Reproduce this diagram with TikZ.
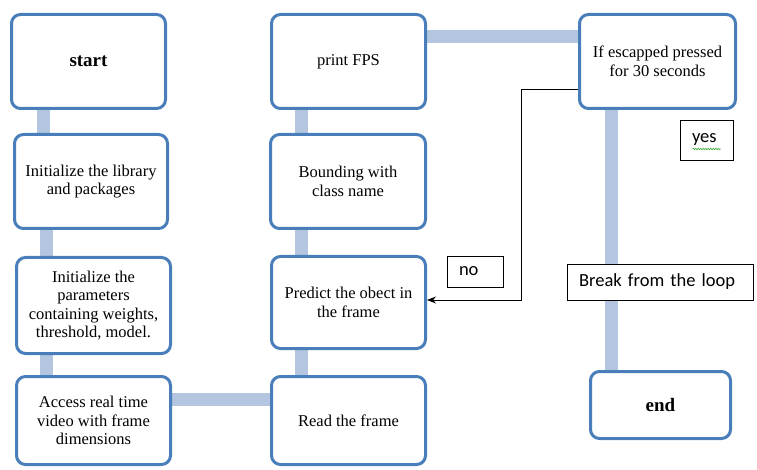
\documentclass[tikz,border=0pt]{standalone}
\usepackage{fontspec}
\setmainfont{Liberation Serif}
\newfontfamily\calfont{Carlito}
\usetikzlibrary{backgrounds,arrows.meta,decorations.pathmorphing}
\definecolor{boxblue}{RGB}{74,126,187}
\definecolor{connblue}{RGB}{180,197,224}
\definecolor{spellgreen}{RGB}{60,170,60}
\tikzset{
  flowbox/.style={draw=boxblue, line width=3pt, rounded corners=9pt, fill=white,
    align=center, inner sep=2pt,
    font=\fontsize{16.5}{18.5}\selectfont},
  thinbox/.style={draw=black, line width=0.9pt, fill=white, inner ysep=0pt,
    inner xsep=12pt, align=left,
    font=\calfont\fontsize{18.5}{20}\selectfont},
  conn/.style={draw=connblue, line width=13pt},
  thinarrow/.style={draw=black, line width=0.9pt, -{Stealth[length=9pt,width=7pt]}}
}
\begin{document}
\begin{tikzpicture}[x=1pt,y=-1pt]
\useasboundingbox (0,0) rectangle (757,470);
% left column
\node[flowbox, minimum width=154pt, minimum height=94pt, font=\bfseries\fontsize{19}{20}\selectfont] (start) at (88.5,61.5) {start};
\node[flowbox, minimum width=153pt, minimum height=94pt] (lib) at (91,181.5) {Initialize the library\\and packages};
\node[flowbox, minimum width=154pt, minimum height=96pt] (params) at (93.5,305.5) {Initialize the\\parameters\\containing weights,\\threshold, model.};
\node[flowbox, minimum width=154pt, minimum height=88pt] (access) at (93.5,420.5) {Access real time\\video with frame\\dimensions};
% middle column
\node[flowbox, minimum width=154pt, minimum height=94pt] (fps) at (348.5,61.5) {print FPS};
\node[flowbox, minimum width=155pt, minimum height=94pt] (bound) at (348,181.5) {Bounding with\\class name};
\node[flowbox, minimum width=154pt, minimum height=92pt] (predict) at (348.5,302.5) {Predict the obect in\\the frame};
\node[flowbox, minimum width=154pt, minimum height=88pt] (read) at (348.5,420.5) {Read the frame};
% right column
\node[flowbox, minimum width=156pt, minimum height=94pt] (if) at (657.5,61.5) {If escapped pressed\\for 30 seconds};
\node[flowbox, minimum width=140pt, minimum height=67pt, font=\bfseries\fontsize{19}{20}\selectfont] (end) at (660.5,405) {end};
\node[thinbox, text width=162pt, minimum height=36pt] (break) at (660,282) {Break from the loop};
\node[thinbox, text width=29pt, minimum height=40pt] (yes) at (706.5,140) {yes};
\node[thinbox, text width=32pt, minimum height=31pt] (no) at (475,271.5) {no};
\draw[spellgreen, line width=0.6pt, decorate, decoration={snake, amplitude=0.8pt, segment length=2.5pt}]
  ([xshift=-14pt,yshift=-9pt]yes.center) -- ([xshift=14pt,yshift=-9pt]yes.center);
% thick connectors
\begin{scope}[on background layer]
\draw[conn] ([xshift=33pt]start.south west) -- ([xshift=30pt]lib.north west);
\draw[conn] ([xshift=33pt]lib.south west) -- ([xshift=31pt]params.north west);
\draw[conn] ([xshift=31pt]params.south west) -- ([xshift=31pt]access.north west);
\draw[conn] ([yshift=21.5pt]access.east) -- ([yshift=21.5pt]read.west);
\draw[conn] ([xshift=31.5pt]read.north west) -- ([xshift=31.5pt]predict.south west);
\draw[conn] ([xshift=31.5pt]predict.north west) -- ([xshift=32.5pt]bound.south west);
\draw[conn] ([xshift=32.5pt]bound.north west) -- ([xshift=31.5pt]fps.south west);
\draw[conn] ([yshift=24.5pt]fps.east) -- ([yshift=24.5pt]if.west);
\draw[conn] ([xshift=33.5pt]if.south west) -- ([xshift=22.5pt]end.north west);
\end{scope}
% no-loop arrow
\coordinate (noturn) at (521,89);
\draw[thinarrow] ([yshift=-27.5pt]if.west) -- (noturn) |- ([yshift=2.5pt]predict.east);
\end{tikzpicture}
\end{document}
